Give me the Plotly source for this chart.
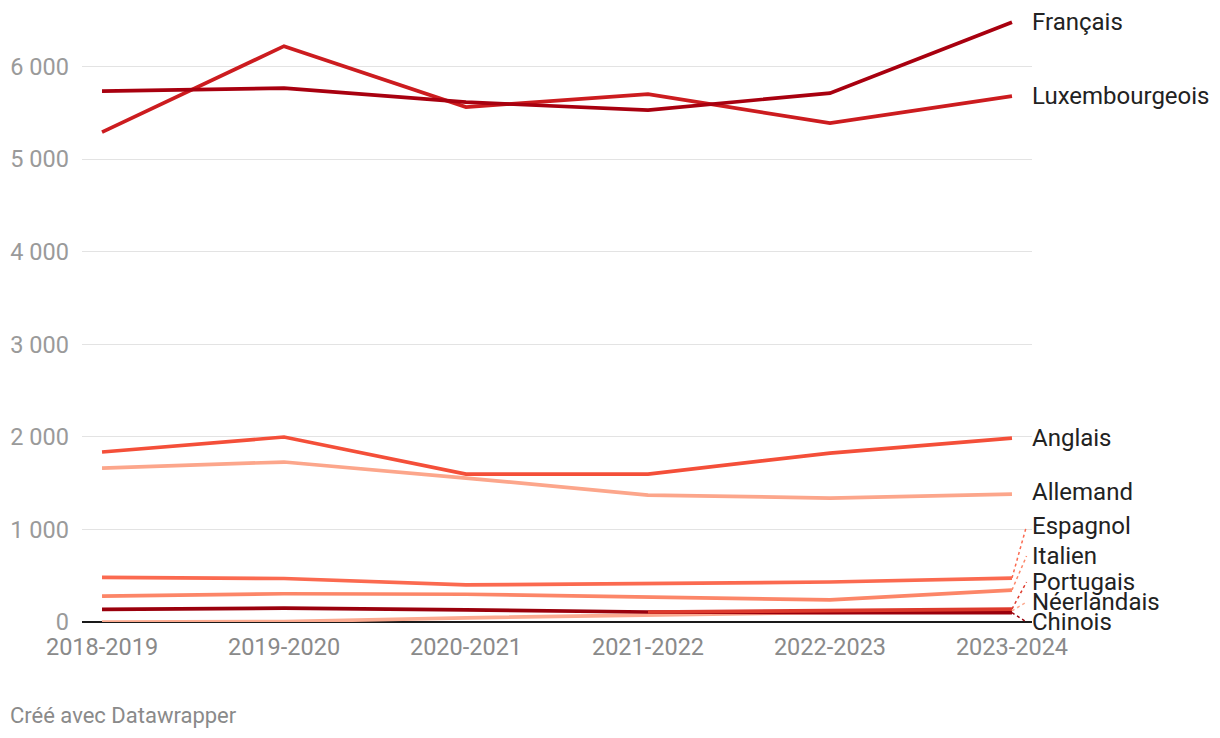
import plotly.graph_objects as go

years = ["2018-2019", "2019-2020", "2020-2021", "2021-2022", "2022-2023", "2023-2024"]

francais = [5735, 5767, 5615, 5530, 5713, 6479]
luxembourgeois = [5292, 6220, 5562, 5702, 5389, 5680]
anglais = [1836, 1998, 1598, 1598, 1825, 1987]
allemand = [1663, 1728, 1555, 1371, 1339, 1382]
espagnol = [483, 470, 400, 415, 432, 475]
italien = [280, 305, 300, 265, 238, 345]
portugais = [None, None, None, 108, 125, 140]
neerlandais = [0, 5, 45, 75, 105, 120]
chinois = [137, 150, 130, 108, 100, 100]

series = [
    ("Allemand", allemand, "#fca68b", 1400),
    ("Anglais", anglais, "#f44f39", 1987),
    ("Néerlandais", neerlandais, "#fcaa90", 216),
    ("Italien", italien, "#fc8668", 713),
    ("Espagnol", espagnol, "#fb6a50", 1037),
    ("Chinois", chinois, "#9a000c", 0),
    ("Portugais", portugais, "#dd3a2c", 432),
    ("Luxembourgeois", luxembourgeois, "#cc1c1f", 5680),
    ("Français", francais, "#a8000f", 6479),
]

fig = go.Figure()
xs = list(range(len(years)))
for name, vals, color, _ in series:
    fig.add_trace(go.Scatter(
        x=xs, y=vals, mode="lines", name=name,
        line=dict(color=color, width=3.7),
        connectgaps=False, hoverinfo="skip",
    ))

annotations = []
shapes = []
for name, vals, color, label_y in series:
    last = vals[-1]
    annotations.append(dict(
        x=5.11, y=label_y, xref="x", yref="y", text=name, showarrow=False,
        xanchor="left", yanchor="middle", xshift=-2,
        font=dict(family="Roboto", size=24, color="#222222"),
    ))
    if abs(label_y - last) > 60:
        shapes.append(dict(
            type="line", xref="x", yref="y",
            x0=5.0, y0=last, x1=5.08, y1=label_y,
            line=dict(color=color, width=1.5, dash="dot"),
        ))

# plot area: 950 x 611 px; footer placed below it
annotations.append(dict(
    x=-74 / 950, y=(614 - 707) / 611, xref="paper", yref="paper",
    text="Créé avec Datawrapper",
    showarrow=False, xanchor="left", yanchor="middle",
    font=dict(family="Roboto", size=22, color="#8a8a8a"),
))

fig.update_layout(
    width=1212, height=730,
    margin=dict(l=74, r=188, t=3, b=116),
    paper_bgcolor="white", plot_bgcolor="white",
    showlegend=False,
    font=dict(family="Roboto"),
    annotations=annotations,
    shapes=shapes,
    xaxis=dict(
        range=[-0.11, 5.11], tickvals=xs, ticktext=years,
        showgrid=False, zeroline=False, showline=False,
        ticks="", ticklabelstandoff=8,
        tickfont=dict(family="Roboto", size=23.5, color="#8a8a8a"),
        fixedrange=True,
    ),
    yaxis=dict(
        range=[0, 6600],
        tickvals=[0, 1000, 2000, 3000, 4000, 5000, 6000],
        ticktext=["0", "1 000", "2 000", "3 000", "4 000", "5 000", "6 000"],
        showgrid=True, gridcolor="#e3e3e3", gridwidth=1,
        zeroline=True, zerolinecolor="#1a1a1a", zerolinewidth=2,
        showline=False, ticks="", ticklabelstandoff=12,
        tickfont=dict(family="Roboto", size=23.5, color="#9a9a9a"),
        fixedrange=True,
    ),
)

fig.write_html("out.html")
